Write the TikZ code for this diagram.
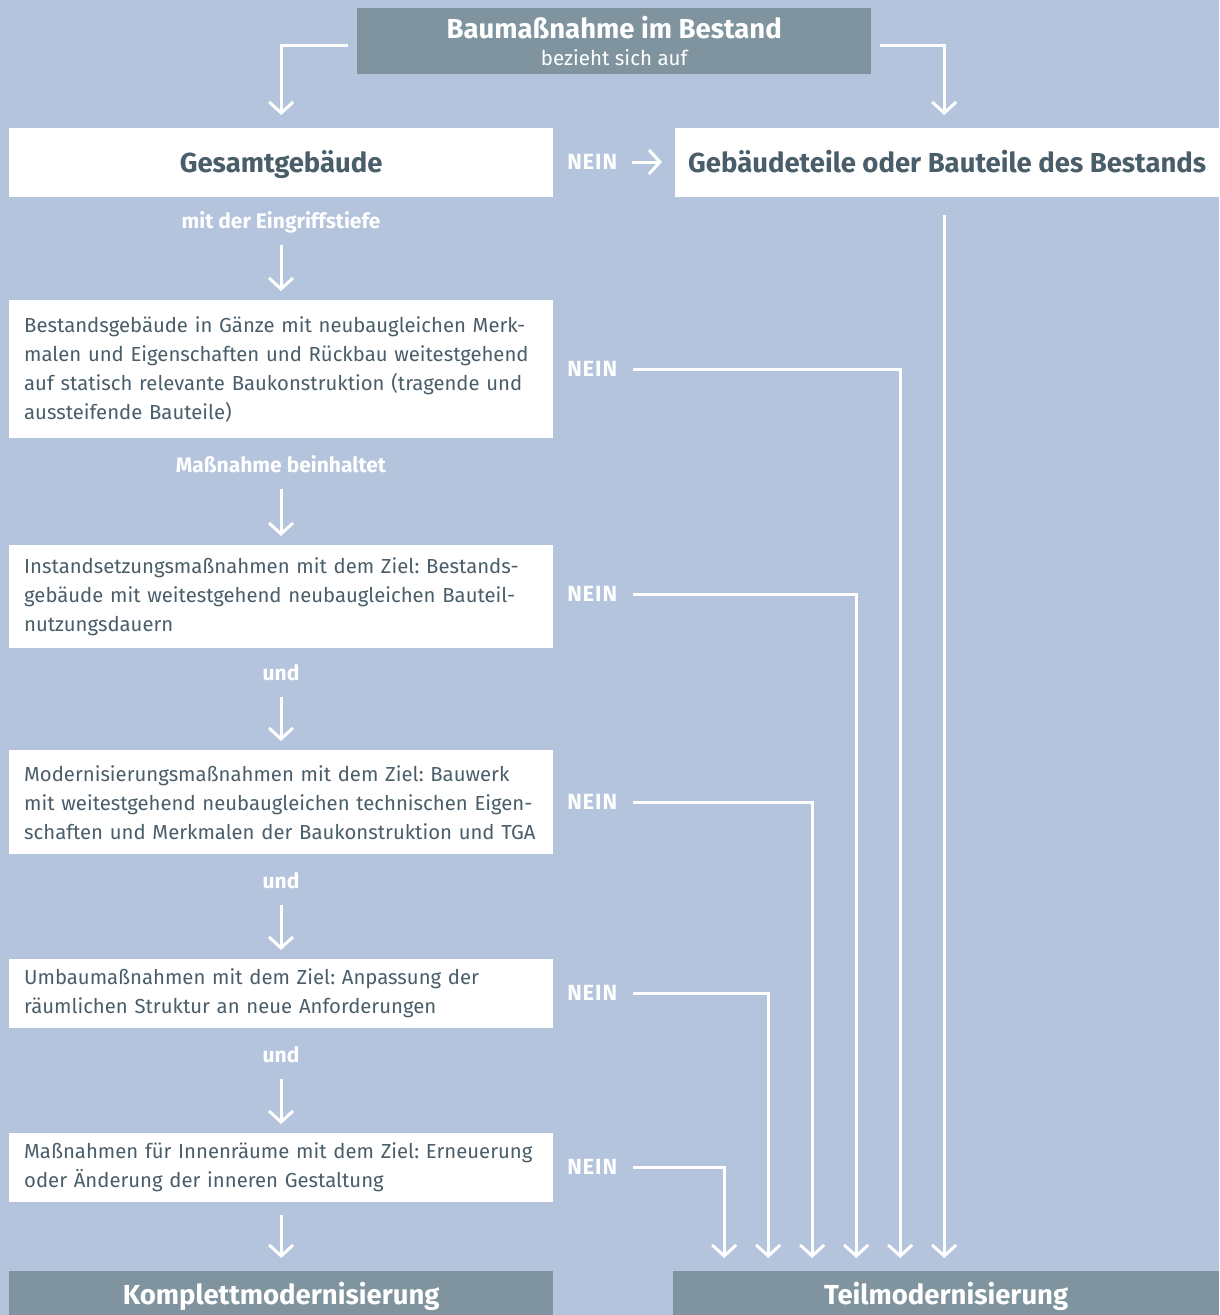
\documentclass[tikz,border=0pt]{standalone}
\usepackage{fontspec}
\setmainfont{Fira Sans}
\usetikzlibrary{arrows.meta}
\definecolor{bg}{RGB}{180,196,220}
\definecolor{dk}{RGB}{127,148,158}
\definecolor{tx}{RGB}{74,94,106}
\frenchspacing
\begin{document}
\begin{tikzpicture}[x=1pt,y=-1pt,
  arr/.style={draw=white, line width=3pt, -{Straight Barb[length=11pt,width=24pt]}},
  whitebox/.style={fill=white, inner xsep=15pt, inner ysep=0pt, text width=514pt, minimum width=544pt, anchor=north west, align=left, text=tx, font=\fontsize{20.3}{29}\selectfont\frenchspacing},
  titlebox/.style={fill=white, inner sep=0pt, minimum height=69pt, anchor=north west, text=tx, font=\fontsize{27.5}{30}\selectfont\bfseries, text height=26pt, text depth=6pt},
  darkbox/.style={fill=dk, inner sep=0pt, anchor=north west, text=white},
  lab/.style={inner sep=0pt, text=white, font=\fontsize{21}{24}\selectfont\bfseries, text height=16pt, text depth=5pt},
  nein/.style={inner sep=0pt, text=white, font=\fontsize{22}{24}\selectfont\bfseries\addfontfeatures{LetterSpace=4}, minimum width=52pt, anchor=west, text height=15pt, text depth=0pt},
]
\fill[bg] (0,0) rectangle (1219,1315);
\useasboundingbox (0,0) rectangle (1219,1315);

\node[darkbox, minimum width=514pt, minimum height=66pt, align=center, font=\fontsize{20.5}{27}\selectfont] (top) at (357,8)
  {{\fontsize{27.5}{27}\selectfont\bfseries Baumaßnahme im Bestand}\\bezieht sich auf};

\node[titlebox, minimum width=544pt] (gesamt) at (9,128) {Gesamtgebäude};
\node[titlebox, minimum width=544pt] (teile) at (675,128) {Gebäudeteile oder Bauteile des Bestands};
\node[nein] (n0) at (566,162) {NEIN};

\node[lab] (l1) at (281,223) {mit der Eingriffstiefe};
\node[whitebox, minimum height=138pt] (b1) at (9,300) {\mbox{Bestandsgebäude in Gänze mit neubaugleichen Merk-}\\\mbox{malen und Eigenschaften und Rückbau weitestgehend}\\\mbox{auf statisch relevante Baukonstruktion (tragende und}\\\mbox{aussteifende Bauteile)}};
\node[nein] (n1) at (566,369) {NEIN};

\node[lab] (l2) at (281,467) {Maßnahme beinhaltet};
\node[whitebox, minimum height=103pt] (b2) at (9,545) {\mbox{Instandsetzungsmaßnahmen mit dem Ziel: Bestands-}\\\mbox{gebäude mit weitestgehend neubaugleichen Bauteil-}\\\mbox{nutzungsdauern}};
\node[nein] (n2) at (566,594) {NEIN};

\node[lab] (l3) at (281,675) {und};
\node[whitebox, minimum height=104pt] (b3) at (9,750) {\mbox{Modernisierungsmaßnahmen mit dem Ziel: Bauwerk}\\\mbox{mit weitestgehend neubaugleichen technischen Eigen-}\\\mbox{schaften und Merkmalen der Baukonstruktion und TGA}};
\node[nein] (n3) at (566,802) {NEIN};

\node[lab] (l4) at (281,883) {und};
\node[whitebox, minimum height=69pt] (b4) at (9,959) {\mbox{Umbaumaßnahmen mit dem Ziel: Anpassung der}\\\mbox{räumlichen Struktur an neue Anforderungen}};
\node[nein] (n4) at (566,993) {NEIN};

\node[lab] (l5) at (281,1057) {und};
\node[whitebox, minimum height=69pt] (b5) at (9,1133) {\mbox{Maßnahmen für Innenräume mit dem Ziel: Erneuerung}\\\mbox{oder Änderung der inneren Gestaltung}};
\node[nein] (n5) at (566,1167) {NEIN};

\node[darkbox, minimum width=544pt, minimum height=46pt, font=\fontsize{27.5}{30}\selectfont\bfseries, text height=26pt, text depth=6pt] (komplett) at (9,1271) {Komplettmodernisierung};
\node[darkbox, minimum width=546pt, minimum height=46pt, font=\fontsize{27.5}{30}\selectfont\bfseries, text height=26pt, text depth=6pt] (teil) at (673,1271) {Teilmodernisierung};

% connectors
\draw[arr, shorten <=9pt, shorten >=13pt] ([yshift=-4pt]top.west) -| (gesamt.north);
\draw[arr, shorten <=9pt, shorten >=13pt] ([yshift=-4pt]top.east) -| ([xshift=-3pt]teile.north);
\draw[arr, shorten <=14pt, shorten >=13pt] (n0.east) -- (teile.west |- n0.east);

\draw[arr, shorten <=11pt, shorten >=9pt] (l1.south) -- (b1.north -| l1.south);
\draw[arr, shorten <=11pt, shorten >=9pt] (l2.south) -- (b2.north -| l2.south);
\draw[arr, shorten <=11pt, shorten >=9pt] (l3.south) -- (b3.north -| l3.south);
\draw[arr, shorten <=11pt, shorten >=9pt] (l4.south) -- (b4.north -| l4.south);
\draw[arr, shorten <=11pt, shorten >=9pt] (l5.south) -- (b5.north -| l5.south);
\draw[arr, shorten <=13pt, shorten >=13pt] (b5.south -| komplett.north) -- (komplett.north);

\draw[arr, shorten <=15pt, shorten >=13pt] (n1.east) -| ([xshift=-46pt]teil.north);
\draw[arr, shorten <=15pt, shorten >=13pt] (n2.east) -| ([xshift=-90pt]teil.north);
\draw[arr, shorten <=15pt, shorten >=13pt] (n3.east) -| ([xshift=-134pt]teil.north);
\draw[arr, shorten <=15pt, shorten >=13pt] (n4.east) -| ([xshift=-178pt]teil.north);
\draw[arr, shorten <=15pt, shorten >=13pt] (n5.east) -| ([xshift=-222pt]teil.north);
\draw[arr, shorten <=18pt, shorten >=13pt] ([xshift=-3pt]teile.south) -- ([xshift=-2pt]teil.north);
\end{tikzpicture}
\end{document}
